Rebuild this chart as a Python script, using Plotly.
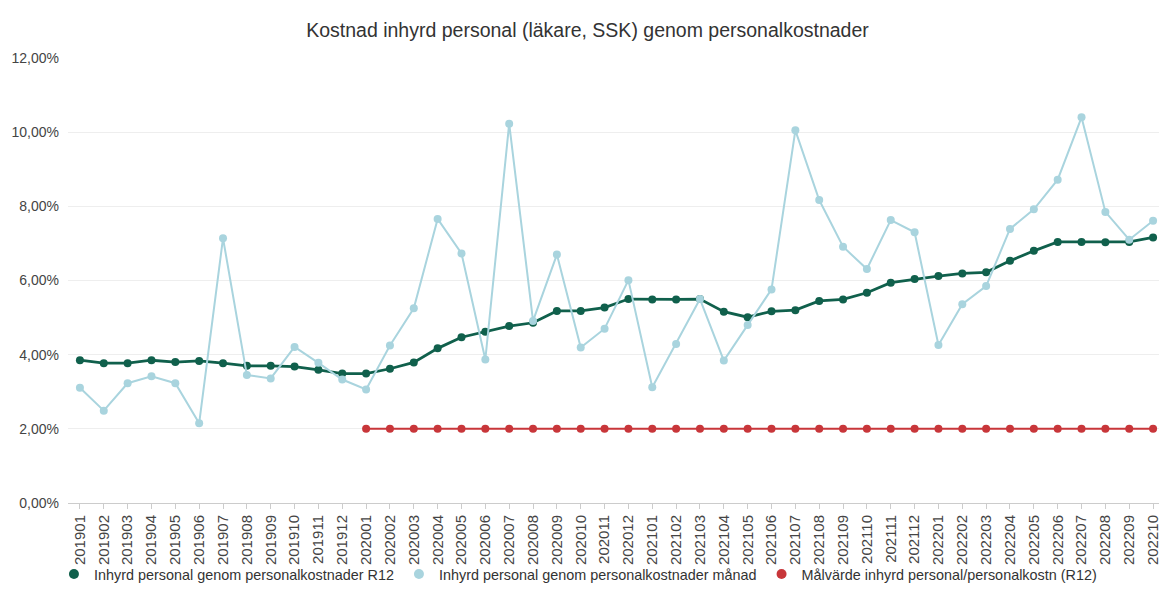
import plotly.graph_objects as go

months = ["201901","201902","201903","201904","201905","201906","201907","201908","201909","201910","201911","201912",
          "202001","202002","202003","202004","202005","202006","202007","202008","202009","202010","202011","202012",
          "202101","202102","202103","202104","202105","202106","202107","202108","202109","202110","202111","202112",
          "202201","202202","202203","202204","202205","202206","202207","202208","202209","202210"]

r12 = [3.85, 3.77, 3.77, 3.85, 3.80, 3.83, 3.77, 3.70, 3.70, 3.68, 3.59, 3.49,
       3.49, 3.62, 3.79, 4.17, 4.47, 4.62, 4.77, 4.86, 5.18, 5.18, 5.27, 5.50,
       5.49, 5.49, 5.50, 5.16, 5.01, 5.17, 5.20, 5.45, 5.49, 5.67, 5.94, 6.04,
       6.12, 6.19, 6.22, 6.53, 6.80, 7.04, 7.04, 7.03, 7.04, 7.16]

monthly = [3.11, 2.49, 3.23, 3.42, 3.23, 2.15, 7.14, 3.45, 3.36, 4.21, 3.78, 3.33,
           3.06, 4.25, 5.25, 7.66, 6.73, 3.87, 10.23, 4.91, 6.70, 4.19, 4.70, 6.01,
           3.12, 4.29, 5.50, 3.84, 4.80, 5.76, 10.05, 8.17, 6.91, 6.31, 7.63, 7.30,
           4.26, 5.36, 5.85, 7.39, 7.92, 8.72, 10.40, 7.85, 7.10, 7.61]

target = [None] * 12 + [2.0] * 34

names = ["Inhyrd personal genom personalkostnader R12",
         "Inhyrd personal genom personalkostnader månad",
         "Målvärde inhyrd personal/personalkostn (R12)"]
colors = ["#10604c", "#a9d4de", "#c8363a"]
widths = [2.8, 2, 2]
series = [r12, monthly, target]

fig = go.Figure()
for name, col, w, ys in zip(names, colors, widths, series):
    fig.add_trace(go.Scatter(x=months, y=ys, name=name, mode="lines+markers", showlegend=False,
                             line=dict(color=col, width=w), marker=dict(size=8, color=col)))
# legend entries shown as dots only
for name, col in zip(names, colors):
    fig.add_trace(go.Scatter(x=[None], y=[None], name=name, mode="markers",
                             marker=dict(size=10, color=col)))

fig.update_layout(
    width=1159, height=602,
    paper_bgcolor="white", plot_bgcolor="white",
    font=dict(family="Liberation Sans, Arial, sans-serif", color="#444", size=13),
    title=dict(text="Kostnad inhyrd personal (läkare, SSK) genom personalkostnader",
               x=0.5, xanchor="center", y=1 - 22 / 602, yanchor="middle",
               font=dict(size=19.5, color="#333")),
    margin=dict(l=60, r=2, t=50, b=107, autoexpand=False),
    separators=",.",
    showlegend=True,
    legend=dict(orientation="h", x=-0.0128, xanchor="left", y=-0.16, yanchor="middle",
                bgcolor="rgba(0,0,0,0)",
                font=dict(size=14.4, color="#333"), itemsizing="trace",
                itemwidth=30, tracegroupgap=0),
    hovermode=False,
)
fig.update_xaxes(type="category", range=[-0.5, 45.5], tickangle=-90, automargin=False,
                 showgrid=False, showline=True, linecolor="#cccccc", linewidth=1,
                 ticks="outside", tickcolor="#cccccc", ticklen=5,
                 tickfont=dict(size=15, color="#444"))
fig.update_yaxes(range=[0, 12], dtick=2, tickformat=".2f", ticksuffix="%", automargin=False,
                 showgrid=True, gridcolor="#eeeeee", gridwidth=1, zeroline=False,
                 showline=False, tickfont=dict(size=14, color="#444"), ticklabelstandoff=8)

fig.write_html("out.html")
